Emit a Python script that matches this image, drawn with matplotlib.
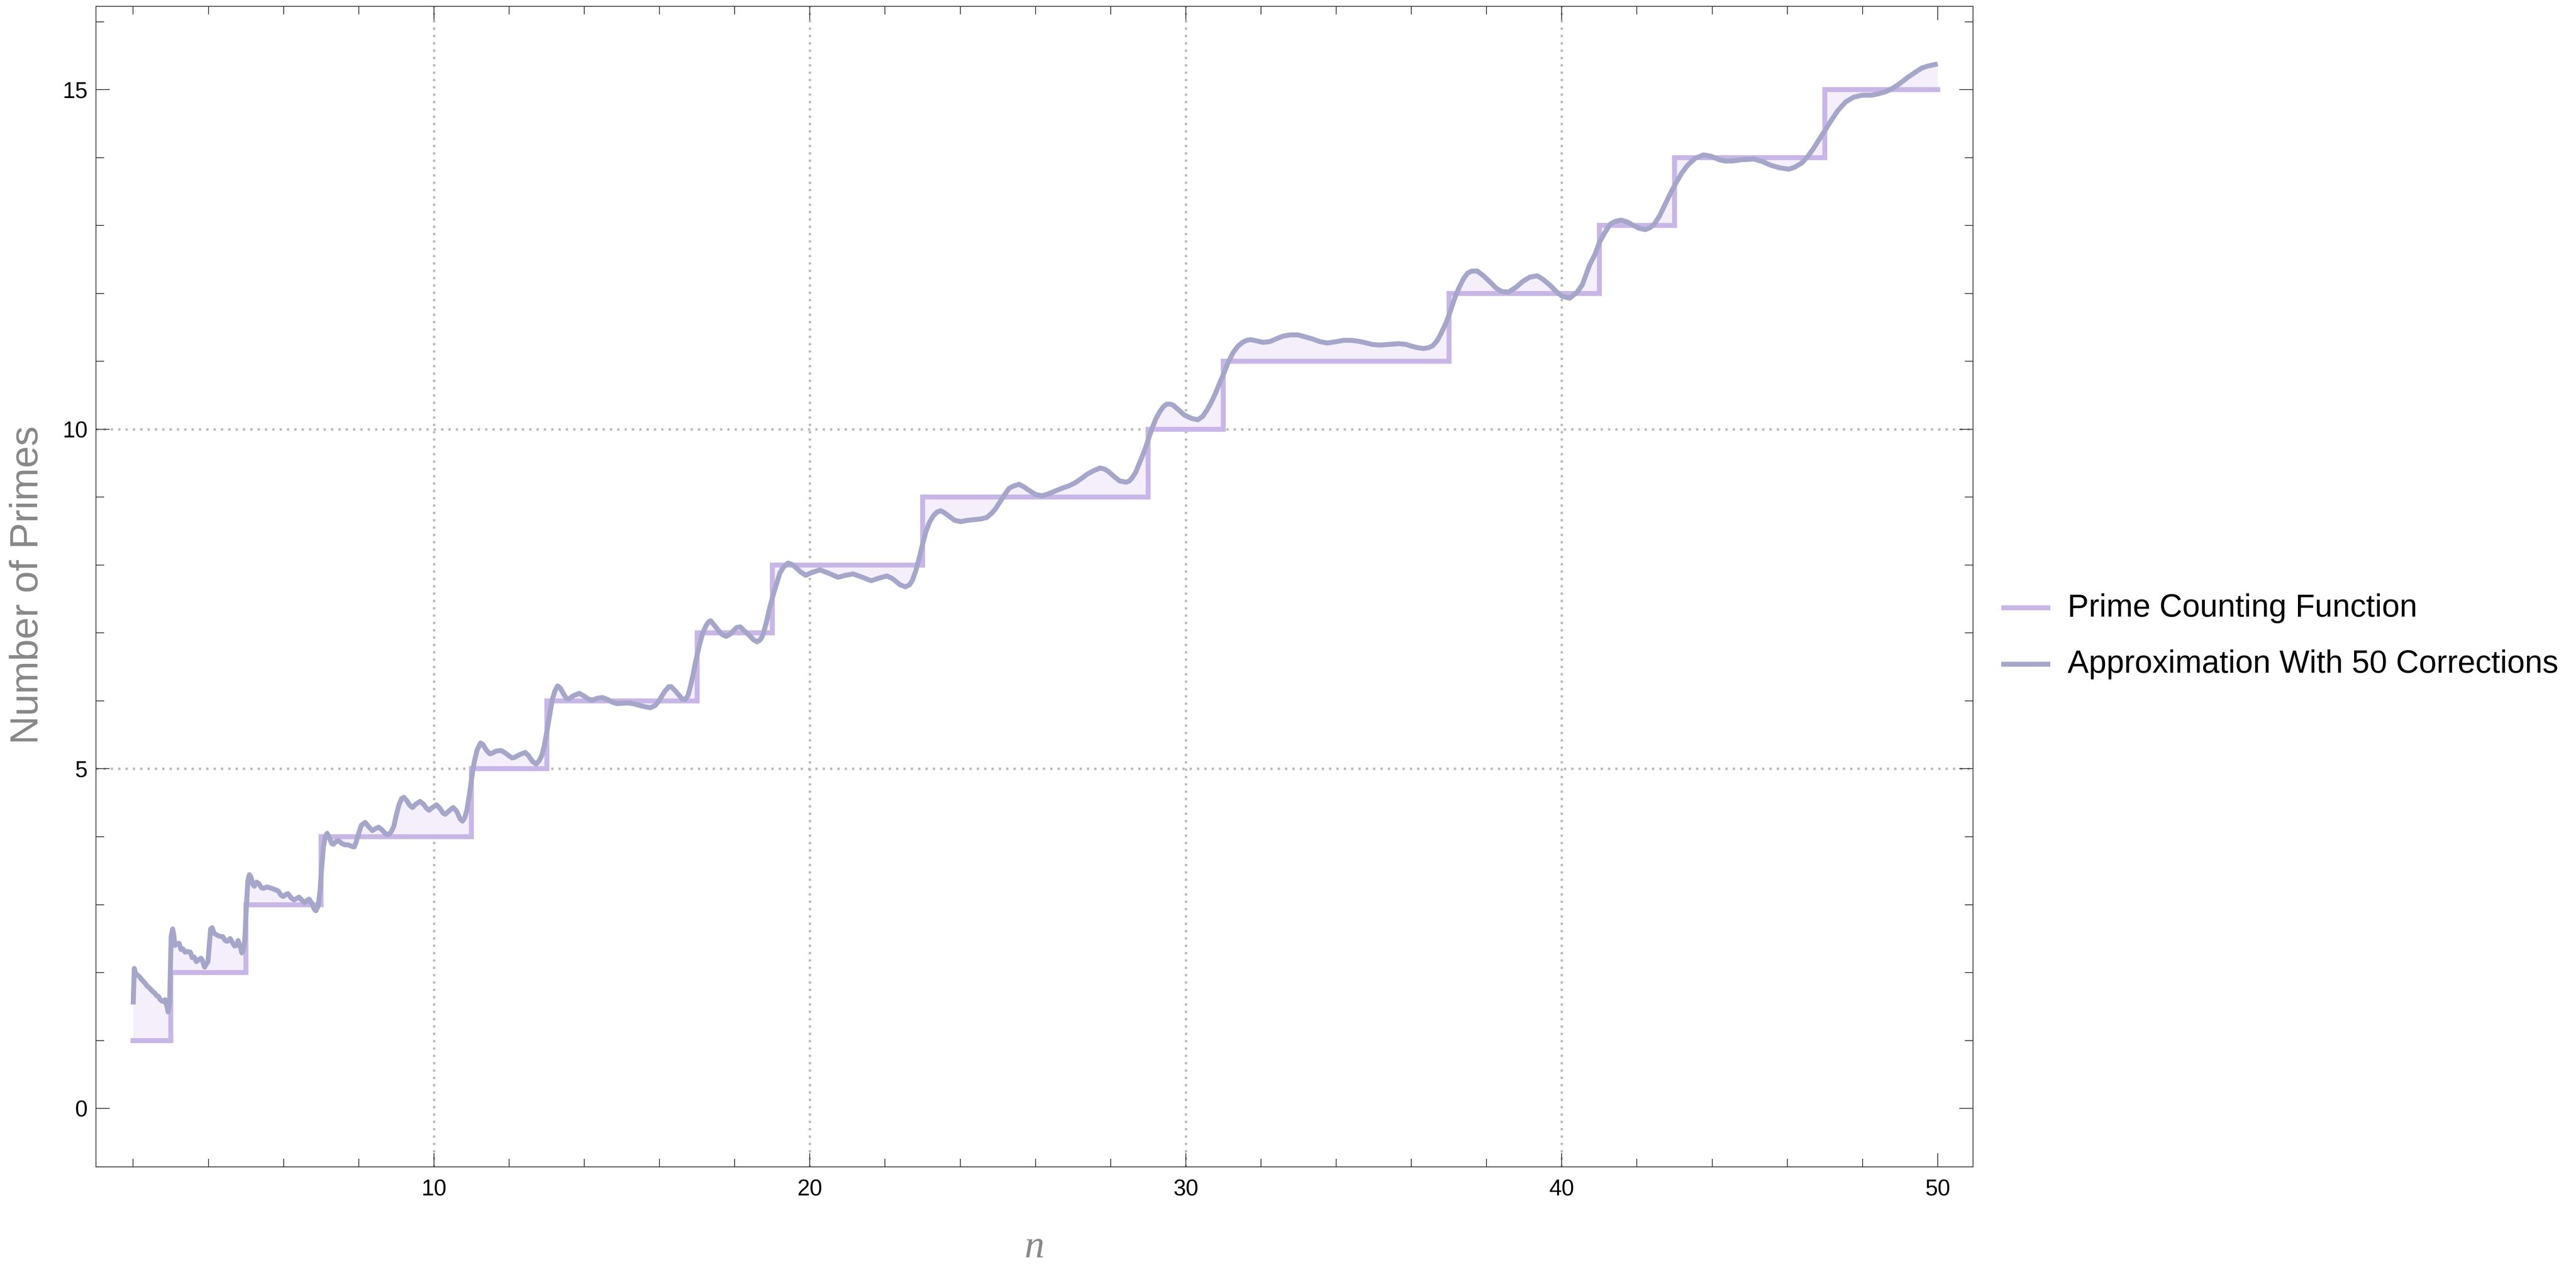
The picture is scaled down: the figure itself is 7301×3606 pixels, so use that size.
import numpy as np
import matplotlib
matplotlib.use("Agg")
import matplotlib.pyplot as plt
from matplotlib.ticker import MultipleLocator, FixedLocator
from matplotlib.lines import Line2D

# ---------------- data ----------------
step_x = [2, 3, 5, 7, 11, 13, 17, 19, 23, 29, 31, 37, 41, 43, 47, 50]
step_y = [1, 2, 3, 4, 5, 6, 7, 8, 9, 10, 11, 12, 13, 14, 15, 15]

approx_n = [
    2.00, 2.03, 2.06, 2.12, 2.18, 2.22, 2.27, 2.32, 2.37, 2.42, 2.47, 2.52, 2.57, 2.62, 2.67, 2.72,
    2.77, 2.82, 2.85, 2.90, 2.93, 2.97, 3.01, 3.05, 3.08, 3.11, 3.15, 3.22, 3.27, 3.32, 3.38, 3.43,
    3.52, 3.57, 3.62, 3.68, 3.72, 3.80, 3.84, 3.90, 3.94, 3.99, 4.06, 4.10, 4.15, 4.20, 4.27, 4.33,
    4.38, 4.45, 4.50, 4.58, 4.64, 4.70, 4.75, 4.79, 4.85, 4.89, 4.93, 4.97, 5.01, 5.05, 5.09, 5.13,
    5.18, 5.22, 5.28, 5.34, 5.41, 5.47, 5.55, 5.62, 5.73, 5.86, 5.93, 5.99, 6.06, 6.12, 6.20, 6.28,
    6.35, 6.41, 6.48, 6.56, 6.62, 6.68, 6.75, 6.82, 6.86, 6.92, 6.97, 7.01, 7.06, 7.11, 7.16, 7.22,
    7.28, 7.33, 7.40, 7.46, 7.55, 7.64, 7.72, 7.80, 7.88, 7.93, 7.98, 8.07, 8.17, 8.26, 8.36, 8.45,
    8.53, 8.62, 8.72, 8.79, 8.86, 8.93, 9.00, 9.07, 9.14, 9.20, 9.28, 9.36, 9.43, 9.52, 9.63, 9.72,
    9.80, 9.87, 9.96, 10.07, 10.17, 10.24, 10.30, 10.40, 10.51, 10.60, 10.70, 10.76, 10.82, 10.88,
    10.96, 11.02, 11.08, 11.15, 11.24, 11.30, 11.40, 11.49, 11.55, 11.65, 11.78, 11.88, 12.00,
    12.08, 12.15, 12.28, 12.43, 12.52, 12.62, 12.72, 12.80, 12.87, 12.94, 13.01, 13.08, 13.15,
    13.22, 13.29, 13.36, 13.45, 13.52, 13.59, 13.72, 13.87, 14.00, 14.10, 14.21, 14.35, 14.48,
    14.62, 14.75, 14.87, 15.14, 15.30, 15.49, 15.65, 15.76, 15.88, 15.97, 16.05, 16.14, 16.25,
    16.31, 16.40, 16.48, 16.60, 16.68, 16.76, 16.83, 16.89, 16.95, 17.07, 17.15, 17.24, 17.30,
    17.36, 17.45, 17.55, 17.66, 17.77, 17.87, 17.96, 18.05, 18.15, 18.26, 18.38, 18.50, 18.60,
    18.68, 18.75, 18.84, 18.93, 19.05, 19.20, 19.31, 19.42, 19.52, 19.61, 19.75, 19.89, 20.05,
    20.27, 20.50, 20.75, 20.95, 21.15, 21.35, 21.63, 21.85, 22.05, 22.20, 22.40, 22.54, 22.65,
    22.73, 22.82, 22.91, 23.00, 23.08, 23.18, 23.29, 23.38, 23.48, 23.58, 23.70, 23.85, 24.01,
    24.20, 24.39, 24.55, 24.70, 24.83, 24.94, 25.08, 25.21, 25.30, 25.40, 25.56, 25.70, 25.83,
    26.00, 26.17, 26.35, 26.52, 26.70, 26.90, 27.05, 27.21, 27.38, 27.55, 27.72, 27.85, 27.96,
    28.10, 28.24, 28.41, 28.50, 28.58, 28.67, 28.75, 28.84, 28.93, 29.10, 29.20, 29.31, 29.40,
    29.49, 29.57, 29.65, 29.80, 29.96, 30.15, 30.32, 30.45, 30.57, 30.68, 30.79, 30.90, 31.01,
    31.13, 31.26, 31.38, 31.51, 31.62, 31.72, 31.90, 32.05, 32.23, 32.40, 32.58, 32.78, 32.98,
    33.18, 33.37, 33.57, 33.77, 34.00, 34.20, 34.38, 34.55, 34.74, 34.95, 35.17, 35.40, 35.67,
    35.85, 36.03, 36.18, 36.32, 36.45, 36.57, 36.68, 36.78, 36.90, 37.00, 37.09, 37.18, 37.28,
    37.39, 37.50, 37.61, 37.75, 37.92, 38.11, 38.25, 38.40, 38.58, 38.78, 38.97, 39.15, 39.35,
    39.52, 39.69, 39.85, 40.01, 40.21, 40.41, 40.55, 40.74, 40.88, 41.01, 41.15, 41.29, 41.42,
    41.58, 41.75, 41.91, 42.06, 42.22, 42.35, 42.46, 42.60, 42.73, 42.88, 43.04, 43.20, 43.35,
    43.55, 43.77, 43.98, 44.18, 44.35, 44.52, 44.80, 45.11, 45.35, 45.55, 45.80, 46.04, 46.20,
    46.38, 46.55, 46.69, 46.85, 47.00, 47.17, 47.34, 47.55, 47.76, 48.00, 48.24, 48.42, 48.61,
    48.80, 48.99, 49.20, 49.41, 49.58, 49.75, 50.00,
]
approx_val = [
    1.53, 2.06, 1.99, 1.96, 1.93, 1.90, 1.87, 1.84, 1.80, 1.78, 1.75, 1.72, 1.70, 1.66, 1.65, 1.60,
    1.58, 1.57, 1.60, 1.50, 1.42, 1.57, 2.53, 2.64, 2.55, 2.40, 2.42, 2.43, 2.34, 2.35, 2.30, 2.31,
    2.30, 2.22, 2.23, 2.16, 2.18, 2.21, 2.18, 2.08, 2.12, 2.16, 2.64, 2.66, 2.58, 2.56, 2.54, 2.53,
    2.53, 2.47, 2.46, 2.50, 2.44, 2.39, 2.40, 2.47, 2.38, 2.29, 2.33, 2.48, 2.96, 3.35, 3.44, 3.41,
    3.30, 3.27, 3.33, 3.31, 3.25, 3.24, 3.26, 3.25, 3.23, 3.20, 3.14, 3.12, 3.15, 3.16, 3.10, 3.07,
    3.09, 3.11, 3.07, 3.03, 3.06, 3.08, 3.02, 2.93, 2.91, 2.98, 3.20, 3.52, 3.85, 4.00, 4.05, 3.98,
    3.90, 3.89, 3.93, 3.94, 3.90, 3.88, 3.88, 3.86, 3.85, 3.92, 4.02, 4.17, 4.21, 4.15, 4.09, 4.12,
    4.14, 4.10, 4.04, 4.03, 4.07, 4.15, 4.32, 4.47, 4.56, 4.58, 4.53, 4.46, 4.43, 4.48, 4.52, 4.48,
    4.42, 4.39, 4.43, 4.47, 4.41, 4.35, 4.33, 4.38, 4.43, 4.38, 4.26, 4.23, 4.28, 4.40,
    4.68, 4.93, 5.12, 5.28, 5.38, 5.36, 5.27, 5.22, 5.23, 5.26, 5.27, 5.24, 5.19,
    5.16, 5.17, 5.21, 5.24, 5.19, 5.11, 5.07, 5.12, 5.20, 5.35, 5.57, 5.80, 6.02,
    6.15, 6.22, 6.19, 6.10, 6.04, 6.03, 6.08, 6.11, 6.07, 6.03, 6.01, 6.04, 6.05,
    6.02, 5.98, 5.96, 5.97, 5.96, 5.93, 5.91, 5.90, 5.93, 5.99, 6.06, 6.14, 6.21,
    6.21, 6.16, 6.11, 6.03, 6.02, 6.08, 6.23, 6.38, 6.55, 6.84, 7.00, 7.11, 7.16,
    7.18, 7.12, 7.05, 6.98, 6.95, 6.98, 7.03, 7.08, 7.09, 7.03, 6.97, 6.90, 6.87,
    6.90, 6.97, 7.15, 7.37, 7.61, 7.88, 7.98, 8.03, 8.01, 7.97, 7.90, 7.85, 7.89,
    7.93, 7.88, 7.82, 7.85, 7.87, 7.83, 7.77, 7.81, 7.84, 7.80, 7.71, 7.68, 7.71,
    7.78, 7.92, 8.11, 8.31, 8.48, 8.63, 8.73, 8.78, 8.80, 8.77, 8.72, 8.66, 8.64,
    8.66, 8.67, 8.68, 8.70, 8.76, 8.83, 8.95, 9.06, 9.13, 9.16, 9.19, 9.15, 9.10,
    9.04, 9.02, 9.05, 9.09, 9.13, 9.17, 9.21, 9.27, 9.34, 9.39, 9.43, 9.41, 9.37,
    9.30, 9.24, 9.22, 9.24, 9.29, 9.37, 9.48, 9.60, 9.73, 10.01, 10.15, 10.26, 10.33,
    10.37, 10.37, 10.36, 10.29, 10.21, 10.16, 10.14, 10.19, 10.29, 10.40, 10.53, 10.68, 10.82,
    10.99, 11.13, 11.22, 11.28, 11.31, 11.32, 11.30, 11.28, 11.29, 11.33, 11.37, 11.39, 11.39,
    11.36, 11.33, 11.29, 11.27, 11.29, 11.31, 11.31, 11.30, 11.28, 11.25, 11.24, 11.25, 11.26,
    11.25, 11.22, 11.20, 11.19, 11.20, 11.23, 11.30, 11.40, 11.54, 11.68, 11.83, 11.97, 12.10,
    12.22, 12.30, 12.33, 12.33, 12.26, 12.16, 12.08, 12.03, 12.02, 12.09, 12.18, 12.24, 12.26,
    12.20, 12.12, 12.03, 11.96, 11.93, 12.02, 12.13, 12.42, 12.57, 12.76, 12.90, 13.02, 13.06,
    13.08, 13.05, 13.00, 12.96, 12.94, 12.97, 13.02, 13.14, 13.29, 13.46, 13.63, 13.78, 13.89,
    13.99, 14.04, 14.02, 13.97, 13.95, 13.95, 13.97, 13.98, 13.94, 13.89, 13.85, 13.83, 13.86,
    13.92, 14.02, 14.13, 14.27, 14.40, 14.55, 14.69, 14.82, 14.89, 14.92, 14.92, 14.94, 14.97,
    15.02, 15.09, 15.18, 15.26, 15.32, 15.35, 15.38,
]

x_major = [10, 20, 30, 40, 50]
y_major = [0, 5, 10, 15]
x_grid = [10, 20, 30, 40]
y_grid = [5, 10]

legend_labels = ["Prime Counting Function", "Approximation With 50 Corrections"]
x_label = "n"
y_label = "Number of Primes"

# ---------------- style ----------------
W, H = 7301, 3606
DPI = 100
PX = 72.0 / DPI  # points per pixel

STEP_C = "#C8B6E8"
CURVE_C = "#A5A6CA"
FILL_C = "#F4EFFB"
GRID_C = "#B8B8B8"
LABEL_C = "#888888"
FRAME_C = "#2A2A2A"

plt.rcParams["font.family"] = ["Liberation Sans", "DejaVu Sans"]

fig = plt.figure(figsize=(W / DPI, H / DPI), dpi=DPI)
fig.patch.set_facecolor("white")

L, R, T, B = 272, 5592, 17.6, 3308
ax = fig.add_axes([L / W, 1 - B / H, (R - L) / W, (B - T) / H])
ax.set_xlim(1.01, 50.94)
ax.set_ylim(-0.862, 16.23)

# grid lines
for gx in x_grid:
    ax.axvline(gx, color=GRID_C, lw=6.5 * PX, linestyle=(0, (1, 2.2)), zorder=0.5)
for gy in y_grid:
    ax.axhline(gy, color=GRID_C, lw=6.5 * PX, linestyle=(0, (1, 2.2)), zorder=0.5)

# fill between curve and step function (polygon: curve forward, step backward)
sx, sy = [], []
for i in range(len(step_x) - 1):
    sx += [step_x[i], step_x[i + 1]]
    sy += [step_y[i], step_y[i]]
poly_x = list(approx_n) + sx[::-1]
poly_y = list(approx_val) + sy[::-1]
ax.fill(poly_x, poly_y, color=FILL_C, lw=0, zorder=1)

# step function
step_line, = ax.step(step_x, step_y, where="post", color=STEP_C, lw=14 * PX,
                     solid_capstyle="projecting", solid_joinstyle="miter", zorder=2)
# approximation curve
curve_line, = ax.plot(approx_n, approx_val, color=CURVE_C, lw=14 * PX,
                      solid_capstyle="butt", solid_joinstyle="round", zorder=3)

# ticks
ax.xaxis.set_major_locator(FixedLocator(x_major))
ax.xaxis.set_minor_locator(MultipleLocator(2))
ax.yaxis.set_major_locator(FixedLocator(y_major))
ax.yaxis.set_minor_locator(MultipleLocator(1))
ax.tick_params(which="both", direction="in", top=True, right=True, color=FRAME_C,
               width=2.2 * PX)
ax.tick_params(which="major", length=39 * PX, labelsize=64 * PX)
ax.tick_params(which="minor", length=23 * PX)
ax.tick_params(axis="y", which="major", pad=24 * PX)
ax.tick_params(axis="x", which="major", pad=35 * PX)
for s in ax.spines.values():
    s.set_color(FRAME_C)
    s.set_linewidth(2.2 * PX)

# axis labels
fig.text(2932 / W, 1 - 3564 / H, x_label, ha="center", va="baseline",
         fontsize=113 * PX, color=LABEL_C, family=["Liberation Serif", "DejaVu Serif"],
         style="italic")
fig.text(107 / W, 1 - 1659 / H, y_label, ha="center", va="baseline", rotation=90,
         rotation_mode="anchor", fontsize=112 * PX, color=LABEL_C)

# legend (manual)
rows = [(1723, 1748, STEP_C), (1883, 1907, CURVE_C)]
for (yc, yb, c), lab in zip(rows, legend_labels):
    fig.add_artist(Line2D([5672 / W, 5811 / W], [1 - yc / H, 1 - yc / H],
                          transform=fig.transFigure, color=c, lw=14 * PX,
                          solid_capstyle="butt"))
    fig.text(5860 / W, 1 - yb / H, lab, ha="left", va="baseline",
             fontsize=90 * PX, color="black")

fig.savefig("out.png", dpi=DPI, facecolor="white")
